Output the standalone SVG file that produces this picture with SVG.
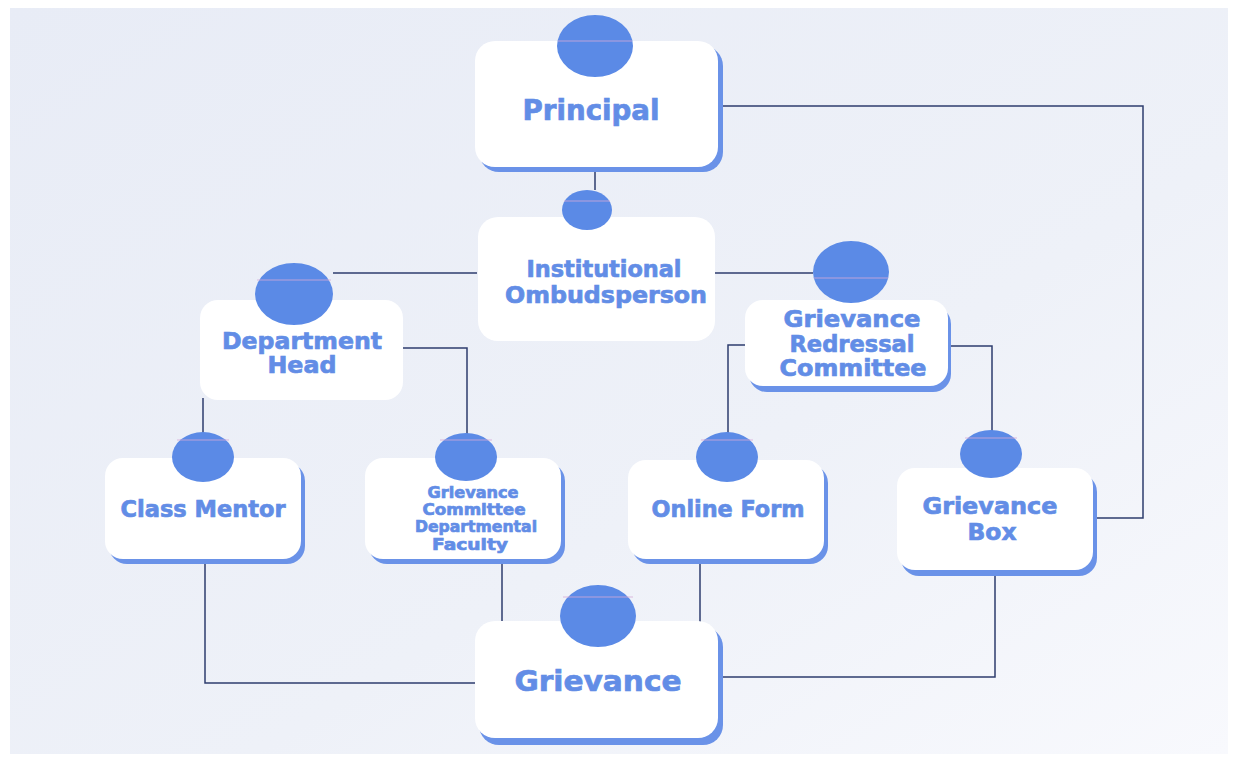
<svg xmlns="http://www.w3.org/2000/svg" width="1233" height="760" viewBox="0 0 1233 760">
<defs>
<linearGradient id="bg" x1="0" y1="0" x2="1" y2="1">
<stop offset="0" stop-color="#e8ecf6"/>
<stop offset="0.6" stop-color="#eef1f8"/>
<stop offset="1" stop-color="#f8f9fd"/>
</linearGradient>
<style>
.box{fill:#ffffff}
.sh{fill:#6a92e8}
.dot{fill:#5b8ae6}
.streak{stroke:#d6a9d8;stroke-width:1.2;opacity:0.8}
.lbl{font-family:"DejaVu Sans","Liberation Sans",sans-serif;font-weight:bold;fill:#628de6;stroke:#628de6;stroke-width:0.7;text-anchor:middle}
.conn{fill:none;stroke:#2e3d6e;stroke-width:1.5}
</style>
</defs>
<rect x="0" y="0" width="1233" height="760" fill="#ffffff"/>
<rect x="10" y="8" width="1218" height="746" fill="url(#bg)"/>

<g id="connectors">
<path class="conn" d="M595 168 V190"/>
<path class="conn" d="M477 273 H333"/>
<path class="conn" d="M713 273 H813"/>
<path class="conn" d="M403 348 H467 V434"/>
<path class="conn" d="M203 398 V434"/>
<path class="conn" d="M745 345 H728 V434"/>
<path class="conn" d="M950 346 H992 V433"/>
<path class="conn" d="M205 560 V683 H475"/>
<path class="conn" d="M502 560 V622"/>
<path class="conn" d="M700 560 V622"/>
<path class="conn" d="M995 572 V677 H720"/>
<path class="conn" d="M1095 518 H1143 V106 H718"/>
</g>

<g id="principal">
<rect class="sh" x="479" y="46" width="244" height="126" rx="20"/>
<rect class="box" x="475" y="41" width="243" height="126" rx="20"/>
<ellipse class="dot" cx="595" cy="46" rx="38" ry="31"/>
<line class="streak" x1="558" y1="41" x2="632" y2="41"/>
<text class="lbl" x="591" y="120" font-size="28" textLength="137" lengthAdjust="spacingAndGlyphs">Principal</text>
</g>

<g id="ombudsperson">
<rect class="box" x="478" y="217" width="237" height="124" rx="20"/>
<ellipse class="dot" cx="587" cy="210" rx="25" ry="20"/>
<line class="streak" x1="564" y1="201" x2="610" y2="201"/>
<text class="lbl" x="604" y="277" font-size="23" textLength="155" lengthAdjust="spacingAndGlyphs">Institutional</text>
<text class="lbl" x="606" y="303" font-size="23" textLength="202" lengthAdjust="spacingAndGlyphs">Ombudsperson</text>
</g>

<g id="dept-head">
<rect class="box" x="200" y="300" width="203" height="100" rx="18"/>
<ellipse class="dot" cx="294" cy="294" rx="39" ry="31"/>
<line class="streak" x1="257" y1="280" x2="331" y2="280"/>
<text class="lbl" x="302" y="349" font-size="23" textLength="160" lengthAdjust="spacingAndGlyphs">Department</text>
<text class="lbl" x="302" y="373" font-size="23" textLength="69" lengthAdjust="spacingAndGlyphs">Head</text>
</g>

<g id="grc">
<rect class="sh" x="749" y="306" width="202" height="86" rx="18"/>
<rect class="box" x="745" y="300" width="203" height="86" rx="18"/>
<ellipse class="dot" cx="851" cy="272" rx="38" ry="31"/>
<line class="streak" x1="814" y1="278" x2="888" y2="278"/>
<text class="lbl" x="852" y="327" font-size="23" textLength="137" lengthAdjust="spacingAndGlyphs">Grievance</text>
<text class="lbl" x="852" y="352" font-size="23" textLength="125" lengthAdjust="spacingAndGlyphs">Redressal</text>
<text class="lbl" x="853" y="376" font-size="23" textLength="147" lengthAdjust="spacingAndGlyphs">Committee</text>
</g>

<g id="class-mentor">
<rect class="sh" x="109" y="463" width="196" height="101" rx="18"/>
<rect class="box" x="105" y="458" width="196" height="101" rx="18"/>
<ellipse class="dot" cx="203" cy="457" rx="31" ry="25"/>
<line class="streak" x1="177" y1="440" x2="229" y2="440"/>
<text class="lbl" x="203" y="517" font-size="23" textLength="165" lengthAdjust="spacingAndGlyphs">Class Mentor</text>
</g>

<g id="gcdf">
<rect class="sh" x="369" y="463" width="196" height="101" rx="18"/>
<rect class="box" x="365" y="458" width="196" height="101" rx="18"/>
<ellipse class="dot" cx="466" cy="457" rx="31" ry="24"/>
<line class="streak" x1="440" y1="440" x2="492" y2="440"/>
<text class="lbl" x="473" y="498" font-size="16" textLength="91" lengthAdjust="spacingAndGlyphs">Grievance</text>
<text class="lbl" x="474" y="515" font-size="16" textLength="103" lengthAdjust="spacingAndGlyphs">Committee</text>
<text class="lbl" x="476" y="532" font-size="16" textLength="122" lengthAdjust="spacingAndGlyphs">Departmental</text>
<text class="lbl" x="470" y="550" font-size="16" textLength="76" lengthAdjust="spacingAndGlyphs">Faculty</text>
</g>

<g id="online-form">
<rect class="sh" x="632" y="465" width="196" height="99" rx="18"/>
<rect class="box" x="628" y="460" width="196" height="99" rx="18"/>
<ellipse class="dot" cx="727" cy="457" rx="31" ry="25"/>
<line class="streak" x1="701" y1="440" x2="753" y2="440"/>
<text class="lbl" x="728" y="517" font-size="23" textLength="153" lengthAdjust="spacingAndGlyphs">Online Form</text>
</g>

<g id="grievance-box">
<rect class="sh" x="901" y="474" width="196" height="102" rx="18"/>
<rect class="box" x="897" y="468" width="196" height="102" rx="18"/>
<ellipse class="dot" cx="991" cy="454" rx="31" ry="24"/>
<line class="streak" x1="965" y1="438" x2="1017" y2="438"/>
<text class="lbl" x="990" y="514" font-size="23" textLength="135" lengthAdjust="spacingAndGlyphs">Grievance</text>
<text class="lbl" x="992" y="540" font-size="23" textLength="49" lengthAdjust="spacingAndGlyphs">Box</text>
</g>

<g id="grievance">
<rect class="sh" x="479" y="627" width="244" height="118" rx="20"/>
<rect class="box" x="475" y="621" width="243" height="117" rx="20"/>
<ellipse class="dot" cx="598" cy="616" rx="38" ry="31"/>
<line class="streak" x1="563" y1="597" x2="633" y2="597"/>
<text class="lbl" x="598" y="691" font-size="29" textLength="167" lengthAdjust="spacingAndGlyphs">Grievance</text>
</g>
</svg>
